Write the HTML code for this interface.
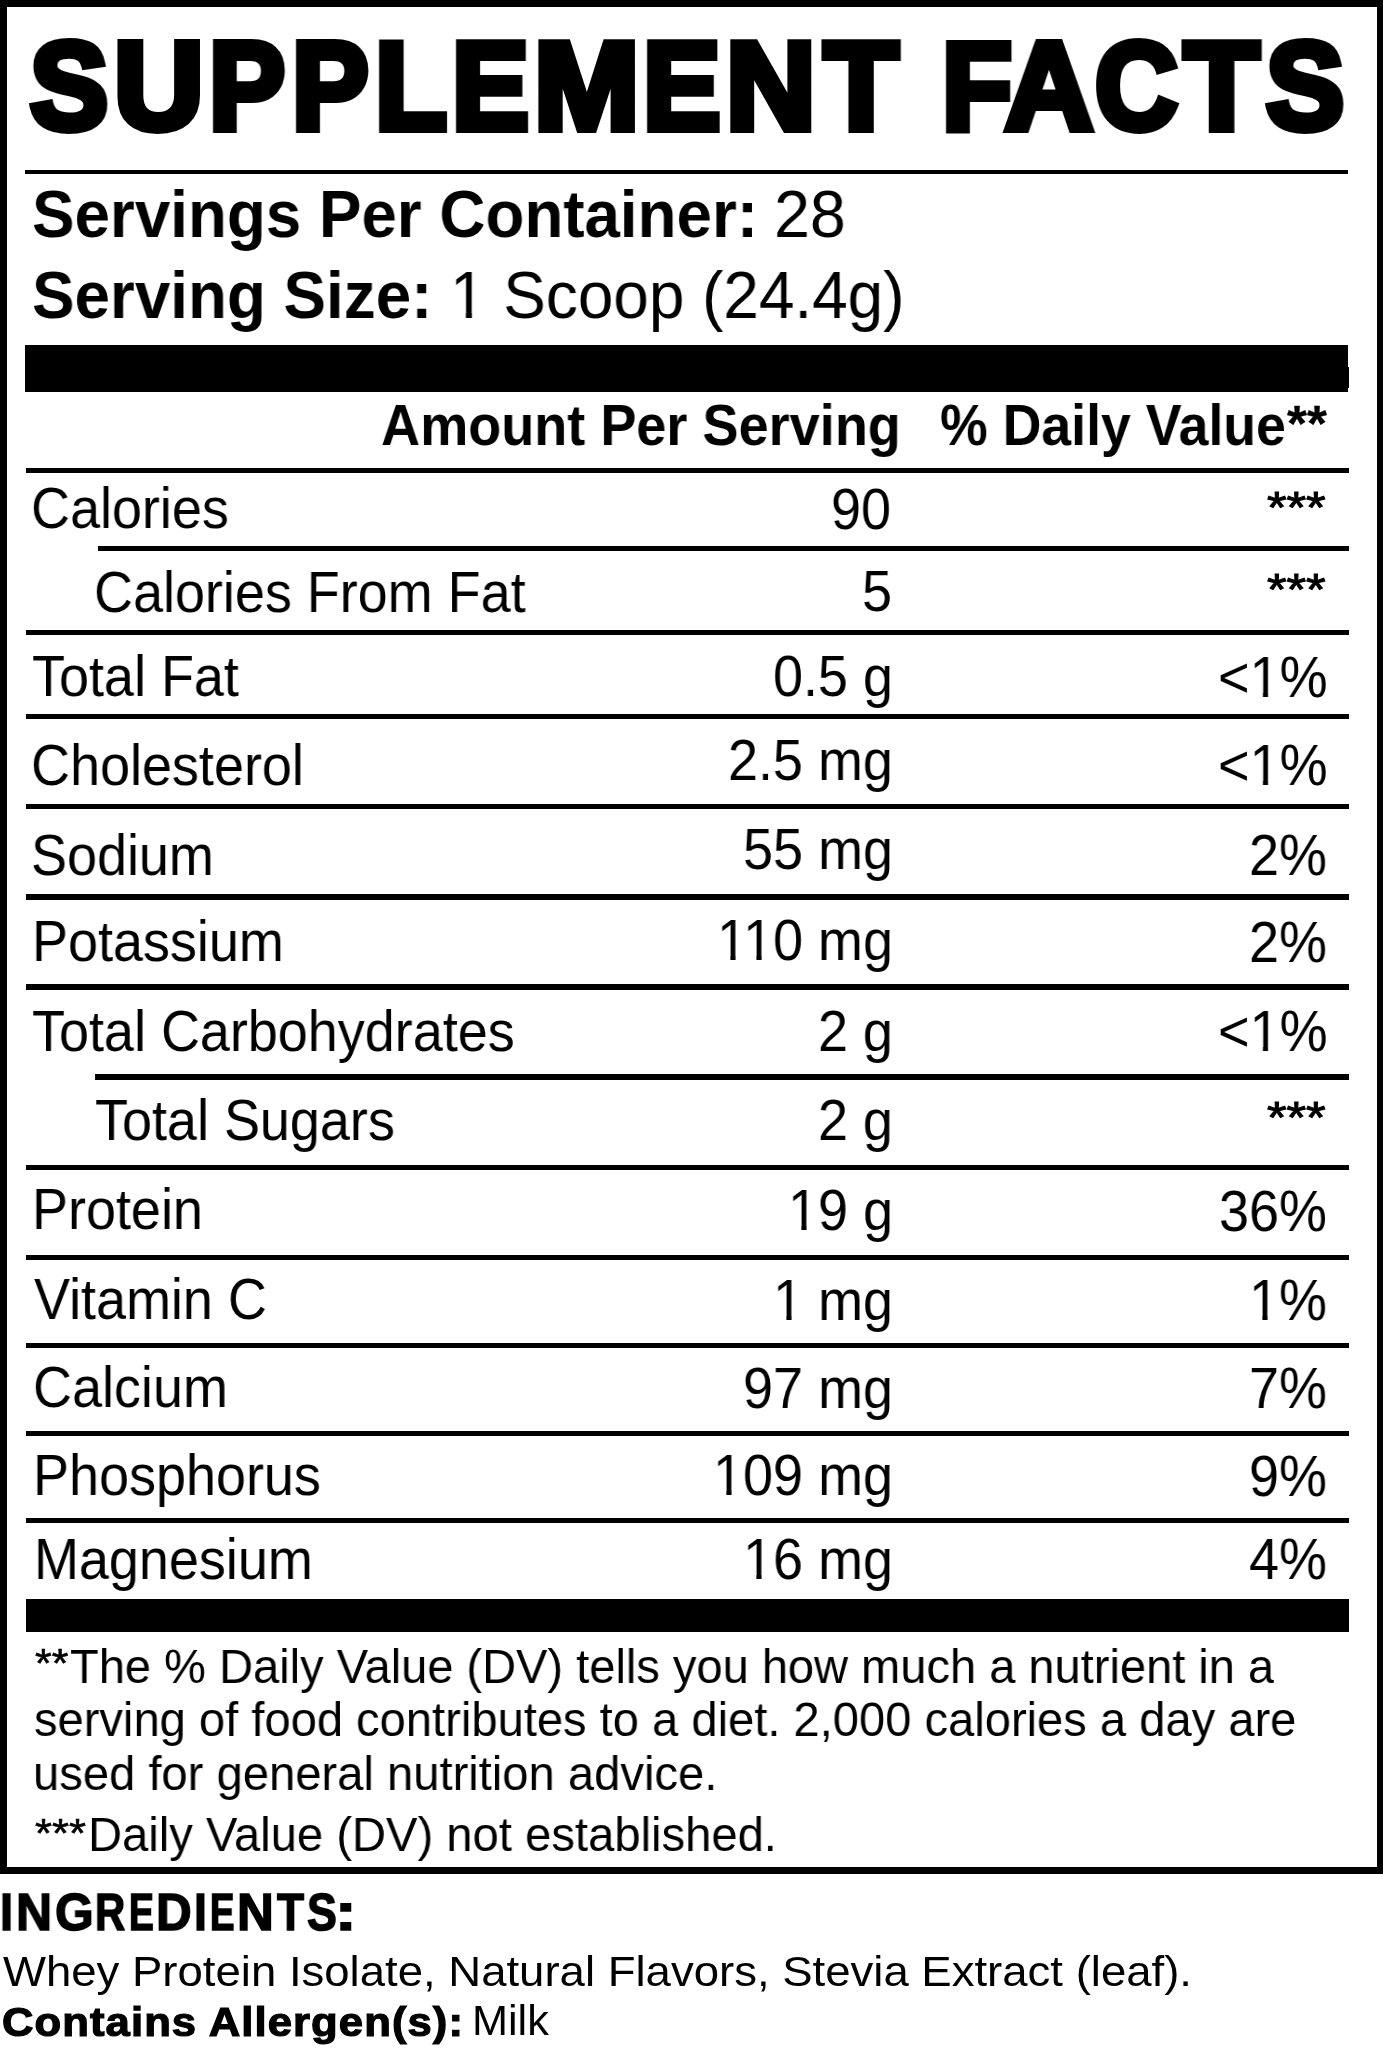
<!DOCTYPE html>
<html><head><meta charset="utf-8"><style>
html,body{margin:0;padding:0;background:#fff;}
body{width:1383px;height:2048px;position:relative;overflow:hidden;font-family:'Liberation Sans', sans-serif;color:#000;}
.r{position:absolute;background:#000;}
.t{position:absolute;transform-origin:0 0;color:#000;will-change:transform;}
</style></head><body>
<div class="r" style="left:0px;top:0px;width:1383px;height:6.5px"></div>
<div class="r" style="left:0px;top:0px;width:6.5px;height:1874px"></div>
<div class="r" style="left:1376.5px;top:0px;width:6.5px;height:1874px"></div>
<div class="r" style="left:0px;top:1867px;width:1383px;height:7px"></div>
<div class="t" style="left:30.34px;top:24.40px;font-family:'Liberation Sans', sans-serif;font-size:124px;font-weight:bold;line-height:1;white-space:pre;-webkit-text-stroke:8px #000;text-shadow:1.5px 0 0 #000,-1.5px 0 0 #000,0.75px 0 0 #000,-0.75px 0 0 #000;transform:scaleX(0.9446);">S</div>
<div class="t" style="left:113.91px;top:24.40px;font-family:'Liberation Sans', sans-serif;font-size:124px;font-weight:bold;line-height:1;white-space:pre;-webkit-text-stroke:8px #000;text-shadow:1.5px 0 0 #000,-1.5px 0 0 #000,0.75px 0 0 #000,-0.75px 0 0 #000;transform:scaleX(0.9964);">U</div>
<div class="t" style="left:209.42px;top:24.40px;font-family:'Liberation Sans', sans-serif;font-size:124px;font-weight:bold;line-height:1;white-space:pre;-webkit-text-stroke:8px #000;text-shadow:1.5px 0 0 #000,-1.5px 0 0 #000,0.75px 0 0 #000,-0.75px 0 0 #000;transform:scaleX(0.9190);">P</div>
<div class="t" style="left:292.10px;top:24.40px;font-family:'Liberation Sans', sans-serif;font-size:124px;font-weight:bold;line-height:1;white-space:pre;-webkit-text-stroke:8px #000;text-shadow:1.5px 0 0 #000,-1.5px 0 0 #000,0.75px 0 0 #000,-0.75px 0 0 #000;transform:scaleX(0.9253);">P</div>
<div class="t" style="left:375.21px;top:24.40px;font-family:'Liberation Sans', sans-serif;font-size:124px;font-weight:bold;line-height:1;white-space:pre;-webkit-text-stroke:8px #000;text-shadow:1.5px 0 0 #000,-1.5px 0 0 #000,0.75px 0 0 #000,-0.75px 0 0 #000;transform:scaleX(0.9486);">L</div>
<div class="t" style="left:451.68px;top:24.40px;font-family:'Liberation Sans', sans-serif;font-size:124px;font-weight:bold;line-height:1;white-space:pre;-webkit-text-stroke:8px #000;text-shadow:1.5px 0 0 #000,-1.5px 0 0 #000,0.75px 0 0 #000,-0.75px 0 0 #000;transform:scaleX(0.9295);">E</div>
<div class="t" style="left:533.52px;top:24.40px;font-family:'Liberation Sans', sans-serif;font-size:124px;font-weight:bold;line-height:1;white-space:pre;-webkit-text-stroke:8px #000;text-shadow:1.5px 0 0 #000,-1.5px 0 0 #000,0.75px 0 0 #000,-0.75px 0 0 #000;transform:scaleX(1.0200);">M</div>
<div class="t" style="left:643.46px;top:24.40px;font-family:'Liberation Sans', sans-serif;font-size:124px;font-weight:bold;line-height:1;white-space:pre;-webkit-text-stroke:8px #000;text-shadow:1.5px 0 0 #000,-1.5px 0 0 #000,0.75px 0 0 #000,-0.75px 0 0 #000;transform:scaleX(0.9359);">E</div>
<div class="t" style="left:726.30px;top:24.40px;font-family:'Liberation Sans', sans-serif;font-size:124px;font-weight:bold;line-height:1;white-space:pre;-webkit-text-stroke:8px #000;text-shadow:1.5px 0 0 #000,-1.5px 0 0 #000,0.75px 0 0 #000,-0.75px 0 0 #000;transform:scaleX(1.0012);">N</div>
<div class="t" style="left:823.64px;top:24.40px;font-family:'Liberation Sans', sans-serif;font-size:124px;font-weight:bold;line-height:1;white-space:pre;-webkit-text-stroke:8px #000;text-shadow:1.5px 0 0 #000,-1.5px 0 0 #000,0.75px 0 0 #000,-0.75px 0 0 #000;transform:scaleX(0.9793);">T</div>
<div class="t" style="left:941.81px;top:24.40px;font-family:'Liberation Sans', sans-serif;font-size:124px;font-weight:bold;line-height:1;white-space:pre;-webkit-text-stroke:8px #000;text-shadow:1.5px 0 0 #000,-1.5px 0 0 #000,0.75px 0 0 #000,-0.75px 0 0 #000;transform:scaleX(0.9236);">F</div>
<div class="t" style="left:1005.25px;top:24.40px;font-family:'Liberation Sans', sans-serif;font-size:124px;font-weight:bold;line-height:1;white-space:pre;-webkit-text-stroke:8px #000;text-shadow:1.5px 0 0 #000,-1.5px 0 0 #000,0.75px 0 0 #000,-0.75px 0 0 #000;transform:scaleX(0.9821);">A</div>
<div class="t" style="left:1094.68px;top:24.40px;font-family:'Liberation Sans', sans-serif;font-size:124px;font-weight:bold;line-height:1;white-space:pre;-webkit-text-stroke:8px #000;text-shadow:1.5px 0 0 #000,-1.5px 0 0 #000,0.75px 0 0 #000,-0.75px 0 0 #000;transform:scaleX(0.9233);">C</div>
<div class="t" style="left:1184.27px;top:24.40px;font-family:'Liberation Sans', sans-serif;font-size:124px;font-weight:bold;line-height:1;white-space:pre;-webkit-text-stroke:8px #000;text-shadow:1.5px 0 0 #000,-1.5px 0 0 #000,0.75px 0 0 #000,-0.75px 0 0 #000;transform:scaleX(0.9915);">T</div>
<div class="t" style="left:1266.45px;top:24.40px;font-family:'Liberation Sans', sans-serif;font-size:124px;font-weight:bold;line-height:1;white-space:pre;-webkit-text-stroke:8px #000;text-shadow:1.5px 0 0 #000,-1.5px 0 0 #000,0.75px 0 0 #000,-0.75px 0 0 #000;transform:scaleX(0.9458);">S</div>
<div class="r" style="left:25.3px;top:169.8px;width:1323.2px;height:4.0px"></div>
<div class="t" style="left:31.58px;top:181.30px;font-family:'Liberation Sans', sans-serif;font-size:66.3px;font-weight:bold;line-height:1;white-space:pre;transform:scaleX(0.9612);">Servings Per Container:</div>
<div class="t" style="left:774.08px;top:181.30px;font-family:'Liberation Sans', sans-serif;font-size:66.3px;font-weight:normal;line-height:1;white-space:pre;transform:scaleX(0.9750);">28</div>
<div class="t" style="left:31.58px;top:262.30px;font-family:'Liberation Sans', sans-serif;font-size:66.3px;font-weight:bold;line-height:1;white-space:pre;transform:scaleX(0.9615);">Serving Size:</div>
<div class="t" style="left:450.12px;top:262.30px;font-family:'Liberation Sans', sans-serif;font-size:66.3px;font-weight:normal;line-height:1;white-space:pre;transform:scaleX(0.9632);"><span style="display:inline-block;clip-path:polygon(0px 0px,36.87px 0px,36.87px 50.45px,22.73px 50.45px,22.73px 99.45px,16.47px 99.45px,16.47px 50.45px,0px 50.45px)">1</span> Scoop (24.4g)</div>
<div class="r" style="left:25.3px;top:345px;width:1323.0px;height:47.2px"></div>
<div class="r" style="left:1348.3px;top:366.5px;width:1.2px;height:21.0px"></div>
<div class="t" style="left:381.04px;top:395.60px;font-family:'Liberation Sans', sans-serif;font-size:58px;font-weight:bold;line-height:1;white-space:pre;transform:scaleX(0.9324);">Amount Per Serving</div>
<div class="t" style="left:939.98px;top:395.80px;font-family:'Liberation Sans', sans-serif;font-size:58px;font-weight:bold;line-height:1;white-space:pre;transform:scaleX(0.9248);">% Daily Value</div>
<div class="t" style="left:1286.90px;top:399.00px;font-family:'Liberation Sans', sans-serif;font-size:50px;font-weight:bold;line-height:1;white-space:pre;-webkit-text-stroke:0.3px #000;transform:scaleX(1.0231);">**</div>
<div class="r" style="left:25.5px;top:467.8px;width:1323.9px;height:5.3px"></div>
<div class="r" style="left:97.6px;top:546.1px;width:1251.8px;height:5.2px"></div>
<div class="r" style="left:25.5px;top:629.6px;width:1323.9px;height:5.2px"></div>
<div class="r" style="left:25.5px;top:713.5px;width:1323.9px;height:5.3px"></div>
<div class="r" style="left:25.5px;top:803.8px;width:1323.9px;height:5.3px"></div>
<div class="r" style="left:25.5px;top:894px;width:1323.9px;height:5.5px"></div>
<div class="r" style="left:25.5px;top:984.2px;width:1323.9px;height:5.4px"></div>
<div class="r" style="left:94.8px;top:1074.4px;width:1254.6px;height:5.6px"></div>
<div class="r" style="left:25.5px;top:1164.8px;width:1323.9px;height:5.2px"></div>
<div class="r" style="left:25.5px;top:1255.2px;width:1323.9px;height:5.3px"></div>
<div class="r" style="left:25.5px;top:1342.9px;width:1323.9px;height:5.3px"></div>
<div class="r" style="left:25.5px;top:1430.5px;width:1323.9px;height:5.2px"></div>
<div class="r" style="left:25.5px;top:1518px;width:1323.9px;height:5.1px"></div>
<div class="r" style="left:25.5px;top:1599.3px;width:1323.9px;height:33.0px"></div>
<div class="t" style="left:30.81px;top:479.10px;font-family:'Liberation Sans', sans-serif;font-size:58px;font-weight:normal;line-height:1;white-space:pre;transform:scaleX(0.9300);">Calories</div>
<div class="t" style="left:94.41px;top:563.00px;font-family:'Liberation Sans', sans-serif;font-size:58px;font-weight:normal;line-height:1;white-space:pre;transform:scaleX(0.9300);">Calories From Fat</div>
<div class="t" style="left:31.57px;top:647.20px;font-family:'Liberation Sans', sans-serif;font-size:58px;font-weight:normal;line-height:1;white-space:pre;transform:scaleX(0.9300);">Total Fat</div>
<div class="t" style="left:30.81px;top:736.00px;font-family:'Liberation Sans', sans-serif;font-size:58px;font-weight:normal;line-height:1;white-space:pre;transform:scaleX(0.9300);">Cholesterol</div>
<div class="t" style="left:30.81px;top:825.60px;font-family:'Liberation Sans', sans-serif;font-size:58px;font-weight:normal;line-height:1;white-space:pre;transform:scaleX(0.9300);">Sodium</div>
<div class="t" style="left:31.68px;top:912.40px;font-family:'Liberation Sans', sans-serif;font-size:58px;font-weight:normal;line-height:1;white-space:pre;transform:scaleX(0.9300);">Potassium</div>
<div class="t" style="left:31.57px;top:1001.90px;font-family:'Liberation Sans', sans-serif;font-size:58px;font-weight:normal;line-height:1;white-space:pre;transform:scaleX(0.9300);">Total Carbohydrates</div>
<div class="t" style="left:95.07px;top:1091.20px;font-family:'Liberation Sans', sans-serif;font-size:58px;font-weight:normal;line-height:1;white-space:pre;transform:scaleX(0.9300);">Total Sugars</div>
<div class="t" style="left:31.68px;top:1180.00px;font-family:'Liberation Sans', sans-serif;font-size:58px;font-weight:normal;line-height:1;white-space:pre;transform:scaleX(0.9300);">Protein</div>
<div class="t" style="left:34.00px;top:1270.30px;font-family:'Liberation Sans', sans-serif;font-size:58px;font-weight:normal;line-height:1;white-space:pre;transform:scaleX(0.9300);">Vitamin C</div>
<div class="t" style="left:32.61px;top:1358.20px;font-family:'Liberation Sans', sans-serif;font-size:58px;font-weight:normal;line-height:1;white-space:pre;transform:scaleX(0.9300);">Calcium</div>
<div class="t" style="left:33.18px;top:1446.10px;font-family:'Liberation Sans', sans-serif;font-size:58px;font-weight:normal;line-height:1;white-space:pre;transform:scaleX(0.9300);">Phosphorus</div>
<div class="t" style="left:33.58px;top:1529.60px;font-family:'Liberation Sans', sans-serif;font-size:58px;font-weight:normal;line-height:1;white-space:pre;transform:scaleX(0.9300);">Magnesium</div>
<div class="t" style="left:831.21px;top:480.30px;font-family:'Liberation Sans', sans-serif;font-size:58px;font-weight:normal;line-height:1;white-space:pre;transform:scaleX(0.9300);">90</div>
<div class="t" style="left:861.90px;top:562.20px;font-family:'Liberation Sans', sans-serif;font-size:58px;font-weight:normal;line-height:1;white-space:pre;transform:scaleX(0.9300);">5</div>
<div class="t" style="left:772.62px;top:647.30px;font-family:'Liberation Sans', sans-serif;font-size:58px;font-weight:normal;line-height:1;white-space:pre;transform:scaleX(0.9300);">0.5 g</div>
<div class="t" style="left:727.98px;top:731.00px;font-family:'Liberation Sans', sans-serif;font-size:58px;font-weight:normal;line-height:1;white-space:pre;transform:scaleX(0.9300);">2.5 mg</div>
<div class="t" style="left:742.86px;top:820.00px;font-family:'Liberation Sans', sans-serif;font-size:58px;font-weight:normal;line-height:1;white-space:pre;transform:scaleX(0.9300);">55 mg</div>
<div class="t" style="left:716.82px;top:910.90px;font-family:'Liberation Sans', sans-serif;font-size:58px;font-weight:normal;line-height:1;white-space:pre;transform:scaleX(0.9300);"><span style="display:inline-block;clip-path:polygon(0px 0px,32.26px 0px,32.26px 44.07px,19.91px 44.07px,19.91px 87.00px,14.38px 87.00px,14.38px 44.07px,0px 44.07px);margin-right:-4.30px">1</span><span style="display:inline-block;clip-path:polygon(0px 0px,32.26px 0px,32.26px 44.07px,19.91px 44.07px,19.91px 87.00px,14.38px 87.00px,14.38px 44.07px,0px 44.07px)">1</span>0 mg</div>
<div class="t" style="left:818.19px;top:1001.60px;font-family:'Liberation Sans', sans-serif;font-size:58px;font-weight:normal;line-height:1;white-space:pre;transform:scaleX(0.9300);">2 g</div>
<div class="t" style="left:818.19px;top:1091.00px;font-family:'Liberation Sans', sans-serif;font-size:58px;font-weight:normal;line-height:1;white-space:pre;transform:scaleX(0.9300);">2 g</div>
<div class="t" style="left:787.50px;top:1181.00px;font-family:'Liberation Sans', sans-serif;font-size:58px;font-weight:normal;line-height:1;white-space:pre;transform:scaleX(0.9300);"><span style="display:inline-block;clip-path:polygon(0px 0px,32.26px 0px,32.26px 44.07px,19.91px 44.07px,19.91px 87.00px,14.38px 87.00px,14.38px 44.07px,0px 44.07px)">1</span>9 g</div>
<div class="t" style="left:772.62px;top:1270.90px;font-family:'Liberation Sans', sans-serif;font-size:58px;font-weight:normal;line-height:1;white-space:pre;transform:scaleX(0.9300);"><span style="display:inline-block;clip-path:polygon(0px 0px,32.26px 0px,32.26px 44.07px,19.91px 44.07px,19.91px 87.00px,14.38px 87.00px,14.38px 44.07px,0px 44.07px)">1</span> mg</div>
<div class="t" style="left:742.86px;top:1358.80px;font-family:'Liberation Sans', sans-serif;font-size:58px;font-weight:normal;line-height:1;white-space:pre;transform:scaleX(0.9300);">97 mg</div>
<div class="t" style="left:713.10px;top:1446.10px;font-family:'Liberation Sans', sans-serif;font-size:58px;font-weight:normal;line-height:1;white-space:pre;transform:scaleX(0.9300);"><span style="display:inline-block;clip-path:polygon(0px 0px,32.26px 0px,32.26px 44.07px,19.91px 44.07px,19.91px 87.00px,14.38px 87.00px,14.38px 44.07px,0px 44.07px)">1</span>09 mg</div>
<div class="t" style="left:742.86px;top:1530.00px;font-family:'Liberation Sans', sans-serif;font-size:58px;font-weight:normal;line-height:1;white-space:pre;transform:scaleX(0.9300);"><span style="display:inline-block;clip-path:polygon(0px 0px,32.26px 0px,32.26px 44.07px,19.91px 44.07px,19.91px 87.00px,14.38px 87.00px,14.38px 44.07px,0px 44.07px)">1</span>6 mg</div>
<div class="t" style="left:1266.90px;top:485.10px;font-family:'Liberation Sans', sans-serif;font-size:45px;font-weight:normal;line-height:1;white-space:pre;-webkit-text-stroke:1px #000;transform:scaleX(1.1170);">***</div>
<div class="t" style="left:1266.90px;top:566.60px;font-family:'Liberation Sans', sans-serif;font-size:45px;font-weight:normal;line-height:1;white-space:pre;-webkit-text-stroke:1px #000;transform:scaleX(1.1170);">***</div>
<div class="t" style="left:1266.90px;top:1094.70px;font-family:'Liberation Sans', sans-serif;font-size:45px;font-weight:normal;line-height:1;white-space:pre;-webkit-text-stroke:1px #000;transform:scaleX(1.1170);">***</div>
<div class="t" style="left:1217.62px;top:647.50px;font-family:'Liberation Sans', sans-serif;font-size:58px;font-weight:normal;line-height:1;white-space:pre;transform:scaleX(0.9300);">&lt;<span style="display:inline-block;clip-path:polygon(0px 0px,32.26px 0px,32.26px 44.07px,19.91px 44.07px,19.91px 87.00px,14.38px 87.00px,14.38px 44.07px,0px 44.07px)">1</span>%</div>
<div class="t" style="left:1217.62px;top:736.00px;font-family:'Liberation Sans', sans-serif;font-size:58px;font-weight:normal;line-height:1;white-space:pre;transform:scaleX(0.9300);">&lt;<span style="display:inline-block;clip-path:polygon(0px 0px,32.26px 0px,32.26px 44.07px,19.91px 44.07px,19.91px 87.00px,14.38px 87.00px,14.38px 44.07px,0px 44.07px)">1</span>%</div>
<div class="t" style="left:1249.24px;top:825.80px;font-family:'Liberation Sans', sans-serif;font-size:58px;font-weight:normal;line-height:1;white-space:pre;transform:scaleX(0.9300);">2%</div>
<div class="t" style="left:1249.24px;top:913.10px;font-family:'Liberation Sans', sans-serif;font-size:58px;font-weight:normal;line-height:1;white-space:pre;transform:scaleX(0.9300);">2%</div>
<div class="t" style="left:1217.62px;top:1001.60px;font-family:'Liberation Sans', sans-serif;font-size:58px;font-weight:normal;line-height:1;white-space:pre;transform:scaleX(0.9300);">&lt;<span style="display:inline-block;clip-path:polygon(0px 0px,32.26px 0px,32.26px 44.07px,19.91px 44.07px,19.91px 87.00px,14.38px 87.00px,14.38px 44.07px,0px 44.07px)">1</span>%</div>
<div class="t" style="left:1219.48px;top:1181.80px;font-family:'Liberation Sans', sans-serif;font-size:58px;font-weight:normal;line-height:1;white-space:pre;transform:scaleX(0.9300);">36%</div>
<div class="t" style="left:1249.24px;top:1271.40px;font-family:'Liberation Sans', sans-serif;font-size:58px;font-weight:normal;line-height:1;white-space:pre;transform:scaleX(0.9300);"><span style="display:inline-block;clip-path:polygon(0px 0px,32.26px 0px,32.26px 44.07px,19.91px 44.07px,19.91px 87.00px,14.38px 87.00px,14.38px 44.07px,0px 44.07px)">1</span>%</div>
<div class="t" style="left:1249.24px;top:1358.70px;font-family:'Liberation Sans', sans-serif;font-size:58px;font-weight:normal;line-height:1;white-space:pre;transform:scaleX(0.9300);">7%</div>
<div class="t" style="left:1249.24px;top:1446.60px;font-family:'Liberation Sans', sans-serif;font-size:58px;font-weight:normal;line-height:1;white-space:pre;transform:scaleX(0.9300);">9%</div>
<div class="t" style="left:1249.24px;top:1529.80px;font-family:'Liberation Sans', sans-serif;font-size:58px;font-weight:normal;line-height:1;white-space:pre;transform:scaleX(0.9300);">4%</div>
<div class="t" style="left:35.20px;top:1643.00px;font-family:'Liberation Sans', sans-serif;font-size:40px;font-weight:normal;line-height:1;white-space:pre;-webkit-text-stroke:0.6px #000;transform:scaleX(1.0710);">**</div>
<div class="t" style="left:70.33px;top:1641.60px;font-family:'Liberation Sans', sans-serif;font-size:48.5px;font-weight:normal;line-height:1;white-space:pre;transform:scaleX(0.9697);">The % Daily Value (DV) tells you how much a nutrient in a</div>
<div class="t" style="left:34.03px;top:1695.00px;font-family:'Liberation Sans', sans-serif;font-size:48.5px;font-weight:normal;line-height:1;white-space:pre;transform:scaleX(0.9714);">serving of food contributes to a diet. 2,000 calories a day are</div>
<div class="t" style="left:33.28px;top:1749.00px;font-family:'Liberation Sans', sans-serif;font-size:48.5px;font-weight:normal;line-height:1;white-space:pre;transform:scaleX(0.9725);">used for general nutrition advice.</div>
<div class="t" style="left:35.20px;top:1812.50px;font-family:'Liberation Sans', sans-serif;font-size:40px;font-weight:normal;line-height:1;white-space:pre;-webkit-text-stroke:0.6px #000;transform:scaleX(1.0894);">***</div>
<div class="t" style="left:88.31px;top:1810.40px;font-family:'Liberation Sans', sans-serif;font-size:48.5px;font-weight:normal;line-height:1;white-space:pre;transform:scaleX(0.9729);">Daily Value (DV) not established.</div>
<div class="t" style="left:0.46px;top:1886.85px;font-family:'Liberation Sans', sans-serif;font-size:51px;font-weight:bold;line-height:1;white-space:pre;-webkit-text-stroke:1.5px #000;transform:scaleX(0.9200);">I</div>
<div class="t" style="left:16.24px;top:1886.85px;font-family:'Liberation Sans', sans-serif;font-size:51px;font-weight:bold;line-height:1;white-space:pre;-webkit-text-stroke:1.5px #000;transform:scaleX(0.9788);">N</div>
<div class="t" style="left:54.72px;top:1886.85px;font-family:'Liberation Sans', sans-serif;font-size:51px;font-weight:bold;line-height:1;white-space:pre;-webkit-text-stroke:1.5px #000;transform:scaleX(0.9757);">G</div>
<div class="t" style="left:94.66px;top:1886.85px;font-family:'Liberation Sans', sans-serif;font-size:51px;font-weight:bold;line-height:1;white-space:pre;-webkit-text-stroke:1.5px #000;transform:scaleX(0.8200);">R</div>
<div class="t" style="left:128.74px;top:1886.85px;font-family:'Liberation Sans', sans-serif;font-size:51px;font-weight:bold;line-height:1;white-space:pre;-webkit-text-stroke:1.5px #000;transform:scaleX(0.7323);">E</div>
<div class="t" style="left:156.46px;top:1886.85px;font-family:'Liberation Sans', sans-serif;font-size:51px;font-weight:bold;line-height:1;white-space:pre;-webkit-text-stroke:1.5px #000;transform:scaleX(0.9676);">D</div>
<div class="t" style="left:194.20px;top:1886.85px;font-family:'Liberation Sans', sans-serif;font-size:51px;font-weight:bold;line-height:1;white-space:pre;-webkit-text-stroke:1.5px #000;transform:scaleX(0.9000);">I</div>
<div class="t" style="left:210.06px;top:1886.85px;font-family:'Liberation Sans', sans-serif;font-size:51px;font-weight:bold;line-height:1;white-space:pre;-webkit-text-stroke:1.5px #000;transform:scaleX(0.7194);">E</div>
<div class="t" style="left:237.31px;top:1886.85px;font-family:'Liberation Sans', sans-serif;font-size:51px;font-weight:bold;line-height:1;white-space:pre;-webkit-text-stroke:1.5px #000;transform:scaleX(0.9970);">N</div>
<div class="t" style="left:277.17px;top:1886.85px;font-family:'Liberation Sans', sans-serif;font-size:51px;font-weight:bold;line-height:1;white-space:pre;-webkit-text-stroke:1.5px #000;transform:scaleX(0.8667);">T</div>
<div class="t" style="left:307.02px;top:1886.85px;font-family:'Liberation Sans', sans-serif;font-size:51px;font-weight:bold;line-height:1;white-space:pre;-webkit-text-stroke:1.5px #000;transform:scaleX(0.8781);">S</div>
<div class="t" style="left:334.73px;top:1886.85px;font-family:'Liberation Sans', sans-serif;font-size:51px;font-weight:bold;line-height:1;white-space:pre;-webkit-text-stroke:1.5px #000;transform:scaleX(1.2667);">:</div>
<div class="t" style="left:2.90px;top:1951.00px;font-family:'Liberation Sans', sans-serif;font-size:42px;font-weight:normal;line-height:1;white-space:pre;transform:scaleX(1.0838);">Whey Protein Isolate, Natural Flavors, Stevia Extract (leaf).</div>
<div class="t" style="left:2.42px;top:2001.50px;font-family:'Liberation Sans', sans-serif;font-size:40.5px;font-weight:bold;line-height:1;white-space:pre;-webkit-text-stroke:1.2px #000;letter-spacing:1px;transform:scaleX(1.0769);">Contains Allergen(s):</div>
<div class="t" style="left:471.61px;top:2000.40px;font-family:'Liberation Sans', sans-serif;font-size:42px;font-weight:normal;line-height:1;white-space:pre;transform:scaleX(1.0292);">Milk</div>
</body></html>
